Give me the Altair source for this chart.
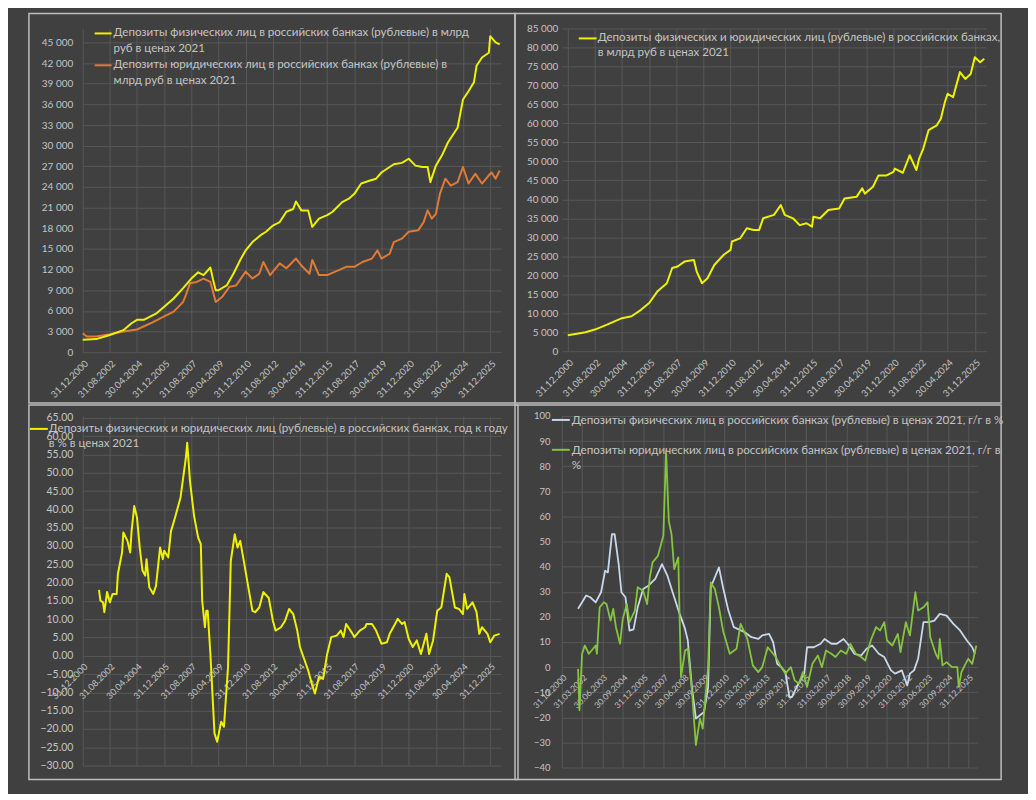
import altair as alt
import pandas as pd

BG = "#404040"
GRID = "#575757"
LABEL = "#c4c4c4"
BORDER = "#bdbdbd"
YELLOW = "#eef200"
ORANGE = "#e07a35"
LIGHTBLUE = "#c8d8ec"
GREEN = "#86c440"
FONT = "Lato"

# ---- data: month offsets from 31.12.2000 and values ----
# Top-left: individuals / legal entities, bn RUB in 2021 prices
tl_ind_m = [0, 10, 20, 30, 36, 40, 45, 50, 54, 60, 67, 74, 80, 85, 89, 94, 96, 98, 100, 106,
            111, 116, 120, 125, 131, 135, 140, 145, 150, 155, 157, 161, 166, 169, 174, 180, 184, 191, 196, 200,
            205, 211, 216, 220, 226, 229, 235, 240, 245, 250, 254, 256, 260, 265, 269, 276, 280, 284, 288, 290,
            294, 299, 300, 304, 307]
tl_ind_v = [1800, 1900, 2500, 3200, 4200, 4700, 4700, 5200, 5600, 6600, 7800, 9300, 10700, 11600, 11200,
            12300, 10500, 9000, 9000, 9700, 11400, 13400, 14800, 16000, 17000, 17500, 18400, 18900, 20400, 20800,
            21900, 20600, 20600, 18200, 19400, 19900, 20400, 21800, 22300, 23000, 24500, 24900, 25200, 26100, 26900,
            27300, 27500, 28100, 27100, 26900, 26900, 24700, 27100, 28800, 30500, 32600, 36700, 37900, 39200, 41600,
            42800, 43500, 45900, 45000, 44700]
tl_leg_m = [0, 3, 10, 20, 30, 40, 50, 60, 67, 74, 76, 79, 84, 89, 94, 98, 103, 108, 113, 120,
            125, 130, 133, 138, 145, 150, 157, 161, 167, 169, 174, 180, 186, 194, 200, 206, 213, 217, 220, 226,
            229, 235, 240, 247, 251, 254, 257, 260, 263, 267, 271, 276, 280, 284, 289, 294, 299, 301, 304, 307]
tl_leg_v = [2750, 2270, 2270, 2600, 3000, 3300, 4200, 5200, 5900, 7300, 8300, 10000, 10200, 10700, 10200,
            7300, 8100, 9500, 9700, 11700, 10700, 11400, 13100, 11200, 12900, 12200, 13600, 12600, 11400, 13400,
            11200, 11200, 11700, 12400, 12400, 13100, 13600, 14800, 13600, 14300, 16000, 16500, 17500, 17700, 18900,
            20600, 19400, 20100, 23000, 25200, 24200, 24700, 26900, 24500, 25900, 24500, 25700, 26100, 25200, 26400]

# Top-right: total deposits
tr_m = [0, 10, 13, 20, 29, 40, 47, 54, 60, 66, 73, 77, 81, 86, 93, 95, 99, 103, 108, 115,
        120, 121, 127, 132, 137, 141, 144, 152, 157, 160, 166, 171, 176, 180, 181, 186, 192, 200, 204, 213,
        217, 219, 225, 229, 235, 240, 241, 247, 252, 257, 259, 262, 266, 272, 275, 278, 280, 284, 289, 293,
        297, 300, 304, 307]
tr_v = [4200, 4800, 5000, 5700, 7000, 8700, 9200, 10900, 12700, 15700, 17900, 21900, 22300, 23600, 24000,
        21000, 17900, 19200, 22700, 25400, 26700, 28900, 29700, 32400, 31900, 31900, 35000, 35900, 38500, 35900,
        35000, 33200, 33700, 32800, 35400, 35000, 37200, 37600, 40200, 40700, 42900, 41500, 43300, 46300, 46300,
        47200, 48100, 47000, 51600, 47700, 50700, 53300, 58200, 59500, 61200, 65600, 67800, 66900, 73500, 71700,
        73000, 77400, 76100, 77000]

# Bottom-left: total deposits, y/y %
bl_m = [12, 13, 15, 16, 18, 20, 22, 25, 26, 29, 30, 33, 35, 36, 38, 40, 42, 44, 46, 47,
        49, 52, 54, 57, 59, 60, 63, 65, 68, 72, 76, 77, 79, 82, 85, 87, 88, 90, 91, 92,
        94, 97, 99, 102, 104, 107, 109, 112, 114, 116, 119, 122, 125, 127, 130, 133, 137, 140, 142, 146,
        149, 152, 155, 158, 160, 163, 166, 169, 171, 174, 177, 180, 183, 187, 190, 192, 194, 198, 200, 204,
        208, 209, 213, 216, 220, 224, 226, 230, 232, 235, 237, 240, 243, 246, 249, 253, 255, 258, 261, 264,
        268, 270, 274, 277, 280, 281, 283, 287, 290, 292, 294, 298, 300, 303, 307]
bl_v = [18.0, 15.1, 14.6, 11.9, 17.4, 14.6, 16.9, 16.9, 22.4, 28.2, 33.7, 31.4, 28.2, 34.0, 40.9,
        37.8, 29.6, 23.3, 21.9, 26.4, 18.7, 16.9, 19.1, 29.6, 26.4, 28.7, 26.9, 34.0, 37.8, 43.2,
        54.1, 58.2, 47.8, 38.2, 32.3, 30.5, 15.1, 7.8, 12.3, 12.3, 0.5, -21.2, -23.5, -18.0, -19.4,
        -3.1, 25.9, 33.2, 29.6, 31.4, 25.1, 18.7, 12.3, 11.9, 13.2, 17.4, 15.8, 9.6, 6.9, 7.8,
        9.6, 12.8, 11.4, 6.9, 2.4, -0.8, -4.0, -8.1, -10.3, -5.8, -6.3, 0.5, 5.1, 5.5, 6.9,
        5.1, 8.7, 6.4, 5.1, 6.9, 7.8, 8.7, 8.7, 6.9, 3.3, 3.7, 6.0, 8.7, 10.1, 8.7,
        9.2, 4.6, 2.4, 4.2, 0.5, 6.0, 0.5, 4.2, 12.3, 13.2, 22.4, 21.5, 13.2, 12.8, 11.4,
        16.9, 12.8, 14.6, 11.9, 6.0, 7.8, 6.0, 3.7, 5.5, 6.0]

# Bottom-right: individuals / legal entities, y/y %
br_ind_m = [12, 15, 18, 21, 25, 29, 32, 34, 37, 39, 42, 44, 47, 50, 53, 56, 60, 64, 69, 74,
            78, 83, 87, 91, 93, 96, 99, 102, 105, 108, 110, 116, 119, 123, 127, 135, 140, 145, 148, 153,
            156, 159, 162, 165, 168, 170, 174, 179, 181, 186, 191, 194, 199, 203, 208, 211, 216, 221, 225, 229,
            234, 238, 243, 246, 251, 255, 257, 260, 263, 267, 271, 275, 279, 284, 289, 294, 299, 303, 305]
br_ind_v = [23.2, 25.8, 28.5, 27.8, 25.8, 29.8, 38.4, 37.7, 52.9, 52.9, 41.0, 29.8, 27.8, 14.5, 15.0,
            23.8, 31.1, 32.4, 35.1, 41.0, 36.4, 27.8, 21.2, 15.2, 10.6, -7.9, -20.5, -19.2, -17.9, -7.9,
            31.8, 39.7, 31.8, 22.5, 15.9, 13.9, 11.9, 11.2, 12.6, 13.2, 9.9, 1.3, 0.0, -2.0, -11.9,
            -11.9, -7.3, -2.6, 7.9, 7.9, 9.3, 11.2, 9.3, 9.3, 11.2, 9.3, 5.3, 4.6, 7.3, 8.6,
            5.3, 4.0, -1.3, -2.6, -1.3, -7.3, -2.6, -1.3, 3.3, 17.9, 17.9, 18.5, 21.2, 20.5, 17.2,
            14.6, 10.6, 7.9, 5.3]
br_leg_m = [12, 13, 15, 17, 20, 22, 25, 26, 28, 31, 33, 36, 38, 40, 43, 45, 48, 50, 54, 56,
            60, 63, 65, 67, 71, 75, 77, 79, 81, 83, 86, 88, 91, 93, 96, 99, 102, 104, 108, 110,
            113, 116, 119, 124, 129, 132, 137, 141, 145, 148, 152, 154, 158, 162, 165, 169, 172, 175, 178, 181,
            185, 189, 192, 195, 199, 202, 206, 210, 213, 217, 221, 224, 228, 232, 235, 238, 240, 244, 248, 250,
            254, 257, 261, 263, 267, 270, 272, 276, 278, 279, 281, 284, 288, 292, 293, 295, 298, 300, 303, 306]
br_leg_v = [-0.7, -17.2, 5.3, 8.6, 5.3, 6.6, 8.6, 5.3, 23.8, 25.8, 25.1, 18.5, 23.2, 15.9, 9.3,
            19.2, 25.1, 17.9, 22.5, 31.8, 30.4, 25.1, 35.7, 41.7, 44.3, 52.3, 86.0, 58.2, 52.9, 39.0,
            43.7, -4.0, 6.6, 7.3, -9.3, -31.1, -20.5, -24.5, 0.0, 33.7, 31.1, 23.8, 14.6, 5.3, 7.3,
            17.2, 11.2, 0.7, -2.0, 0.0, 7.9, 6.6, 4.0, 0.0, -2.6, 0.0, -5.3, -6.6, -2.0, -7.9,
            1.3, 4.6, 0.0, 6.6, 5.3, 4.0, 6.6, 5.3, 9.3, 5.3, 4.0, 2.6, 10.6, 15.9, 14.6,
            17.9, 10.6, 8.6, 13.2, 6.0, 17.9, 12.6, 29.8, 22.5, 23.8, 25.8, 11.9, 5.3, 3.3, 11.2,
            0.7, 2.0, 0.0, 0.0, -7.9, -2.0, 1.3, 3.3, 1.3, 8.6]

# tick labels (month offsets)
ticks20 = list(range(0, 301, 20))
ticks15 = list(range(0, 301, 15))

tl_y_ticks = list(range(0, 45001, 3000))
tr_y_ticks = list(range(0, 85001, 5000))
bl_y_ticks = list(range(-30, 66, 5))
br_y_ticks = list(range(-40, 101, 10))


def month_end(m):
    return (pd.Period("2000-12", freq="M") + int(m)).to_timestamp(how="start") + pd.offsets.MonthEnd(0)


def frac_date(m):
    return pd.Timestamp("2000-12-31") + pd.Timedelta(days=m * 30.4375)


def dt(ts):
    return alt.DateTime(year=ts.year, month=ts.month, date=ts.day)


def frame(months, values):
    return pd.DataFrame({"date": [month_end(m) for m in months], "value": values})


one = pd.DataFrame({"k": [0]})


def xaxis(ticks, size, offset=0):
    return alt.Axis(values=[dt(month_end(m)) for m in ticks], format="%d.%m.%Y", formatType="time",
                    labelAngle=315, labelAlign="right", labelBaseline="top", labelFontSize=size,
                    labelPadding=6, labelOverlap=False, labelFlush=False, grid=True, offset=offset,
                    title=None, domain=False, ticks=False)


def border(x, x2, y, y2):
    return alt.Chart(one).mark_rect(fill="transparent", stroke=BORDER, strokeWidth=1.5).encode(
        x=alt.value(x), x2=alt.value(x2), y=alt.value(y), y2=alt.value(y2))


def legend(color, sx, sx2, sy, tx, lines, lh, size=11.6):
    layers = [alt.Chart(one).mark_rule(color=color, strokeWidth=2).encode(
        x=alt.value(sx), x2=alt.value(sx2), y=alt.value(sy))]
    for i, line in enumerate(lines):
        layers.append(alt.Chart(one).mark_text(text=line, align="left", baseline="middle", fontSize=size,
                                               font=FONT, color=LABEL).encode(
            x=alt.value(tx), y=alt.value(sy + i * lh)))
    return layers


def line_layers(series, xdom, ydom, xax, yax, width=2):
    out = []
    for df, color in series:
        out.append(alt.Chart(df).mark_line(color=color, strokeWidth=width, strokeJoin="round").encode(
            x=alt.X("date:T", scale=alt.Scale(domain=[dt(frac_date(xdom[0])), dt(frac_date(xdom[1]))]),
                    axis=xax),
            y=alt.Y("value:Q", scale=alt.Scale(domain=ydom, nice=False, zero=False), axis=yax),
        ))
    return out


space_fmt = "replace(format(datum.value, ',d'), ',', ' ')"

# ---- top-left ----
tl = alt.layer(
    *line_layers([(frame(tl_leg_m, tl_leg_v), ORANGE), (frame(tl_ind_m, tl_ind_v), YELLOW)],
                 (0, 308), [0, 47026], xaxis(ticks20, 9.5),
                 alt.Axis(values=tl_y_ticks, labelExpr=space_fmt, labelFontSize=10, labelPadding=10, title=None,
                          grid=True, domain=False, ticks=False)),
    border(-54, 434, -15, 376),
    *legend(YELLOW, 12, 29, 5, 31, ["Депозиты физических лиц в российских банках (рублевые) в млрд",
                                    "руб в ценах 2021"], 15.5),
    *legend(ORANGE, 12, 29, 37, 31, ["Депозиты юридических лиц в российских банках (рублевые) в",
                                     "млрд руб в ценах 2021"], 15.5),
).properties(width=420, height=325)

# ---- top-right ----
tr = alt.layer(
    *line_layers([(frame(tr_m, tr_v), YELLOW)], (-4.4, 308.4), [0, 85000], xaxis(ticks20, 9.5),
                 alt.Axis(values=tr_y_ticks, labelExpr=space_fmt, labelFontSize=10, labelPadding=4, title=None,
                          grid=True, domain=False, ticks=False)),
    border(-47, 441, -15, 376),
    *legend(YELLOW, 17, 35, 10, 36, ["Депозиты физических и юридических лиц (рублевые) в российских банках,",
                                     "в млрд руб в ценах 2021"], 15),
).properties(width=426, height=324)

# ---- bottom-left ----
bl = alt.layer(
    *line_layers([(frame(bl_m, bl_v), YELLOW)], (0, 308), [-30, 65.54], xaxis(ticks20, 9, offset=-110),
                 alt.Axis(values=bl_y_ticks, format=".2f", labelFontSize=10.5, labelPadding=10, title=None,
                          grid=True, domain=False, ticks=False)),
    border(-54, 437, -11, 365),
    *legend(YELLOW, -53, -35, 13, -34,
            ["Депозиты физических и юридических лиц (рублевые) в российских банках, год к году",
             "в % в ценах 2021"], 15),
).properties(width=420, height=351)

# ---- bottom-right ----
br = alt.layer(
    *line_layers([(frame(br_ind_m, br_ind_v), LIGHTBLUE), (frame(br_leg_m, br_leg_v), GREEN)],
                 (0, 306.6), [-40, 100], xaxis(ticks15, 8.5, offset=-101),
                 alt.Axis(values=br_y_ticks, format="d", labelFontSize=9.5, labelPadding=12, title=None,
                          grid=True, domain=False, ticks=False), width=1.8),
    border(-47, 441, -11, 365),
    *legend(LIGHTBLUE, -10, 8, 4, 10,
            ["Депозиты физических лиц в российских банках (рублевые) в ценах 2021, г/г в %"], 15, 11.7),
    *legend(GREEN, -10, 8, 34, 10,
            ["Депозиты юридических лиц в российских банках (рублевые) в ценах 2021, г/г в", "%"], 15, 11.7),
).properties(width=417, height=353)

chart = alt.concat(
    tl, tr, bl, br, columns=2, spacing={"row": 64, "column": 61}, bounds="flush", align="each"
).resolve_scale(
    x="independent", y="independent"
).properties(
    background=BG,
    padding={"left": 20, "top": 3, "right": 24, "bottom": 12},
).configure_view(
    stroke=None
).configure_axis(
    labelFont=FONT, labelColor=LABEL, gridColor=GRID, gridWidth=1
)

chart.save("out.html", embed_options={"renderer": "svg", "actions": False})
